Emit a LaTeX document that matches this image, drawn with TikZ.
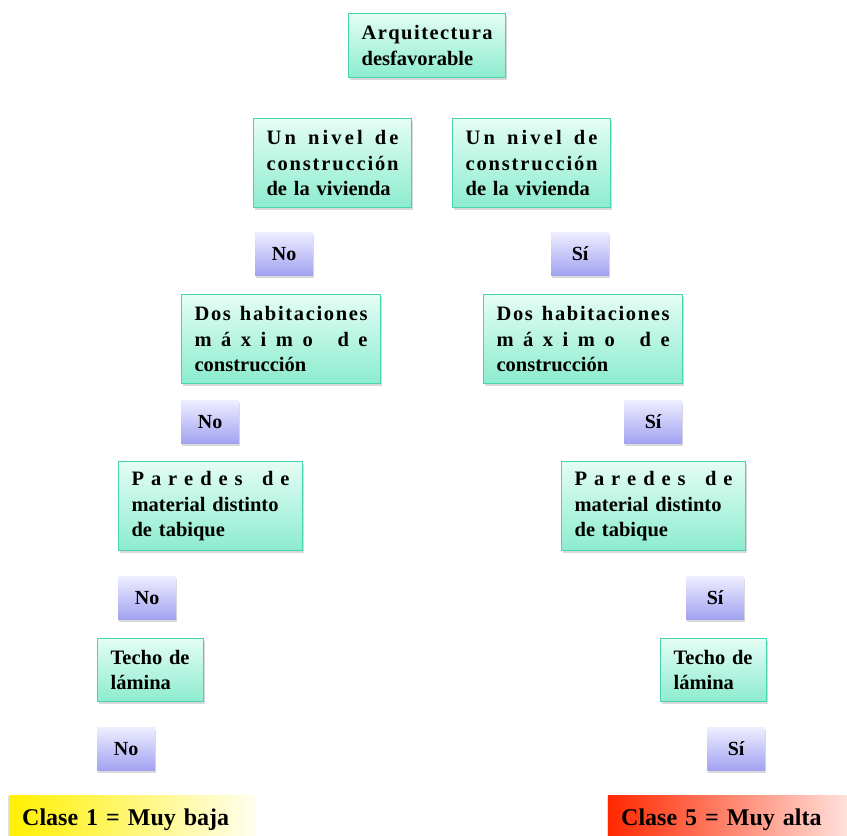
\documentclass[tikz,border=0pt]{standalone}
\usepackage{fontspec}
\setmainfont{Liberation Serif}
\usetikzlibrary{positioning, shadows}

\definecolor{mentaclaro}{RGB}{228, 253, 245}
\definecolor{mentaoscuro}{RGB}{140, 236, 206}
\definecolor{mentaborde}{RGB}{72, 212, 176}
\definecolor{lilaclaro}{RGB}{238, 238, 255}
\definecolor{lilaoscuro}{RGB}{162, 162, 242}
\definecolor{amarillo}{RGB}{255, 240, 0}
\definecolor{rojo}{RGB}{255, 40, 0}

% lineas justificadas como en el original
\makeatletter
\newcommand{\sep}{\hskip .28em plus 3fil\relax}
\newcommand{\letras}[1]{\makebox[\hsize][s]{\letras@ini#1\@nil}}
\def\letras@ini#1{#1\letras@sig}
\def\letras@sig#1{\ifx#1\@nil\else\hfill#1\expandafter\letras@sig\fi}
\makeatother
\newcommand{\justa}[1]{\makebox[\hsize][s]{#1}}

\begin{document}
\begin{tikzpicture}[x=1pt, y=-1pt,
    caja/.style={draw=mentaborde, line width=1.2pt, top color=mentaclaro,
                 bottom color=mentaoscuro, anchor=north west, align=left,
                 inner xsep=13pt, inner ysep=0pt,
                 drop shadow={shadow xshift=1pt, shadow yshift=-2.5pt, opacity=0.3},
                 font=\bfseries\fontsize{20.5}{25.5}\selectfont},
    resp/.style={top color=lilaclaro, bottom color=lilaoscuro, anchor=north west,
                 minimum width=58pt, minimum height=43pt, inner sep=0pt,
                 drop shadow={shadow xshift=1pt, shadow yshift=-2.5pt, opacity=0.3},
                 font=\bfseries\fontsize{20}{24}\selectfont},
    clase/.style={anchor=north west, inner xsep=13pt, inner ysep=13pt,
                  text height=17pt, text depth=6pt, align=left,
                  drop shadow={shadow xshift=-1pt, shadow yshift=-1pt, opacity=0.25},
                  font=\bfseries\fontsize{24}{28}\selectfont}
  ]
    \useasboundingbox (0,0) rectangle (847,836);

    \node[caja, text width=131pt, minimum height=64pt] (arquitectura) at (348,13)
      {\letras{Arquitectura}\\desfavorable};

    \node[caja, text width=132pt, minimum height=89pt] (nivelNo) at (253,118)
      {\letras{Un\sep nivel\sep de}\\\letras{construcción}\\de la vivienda};
    \node[caja, text width=132pt, minimum height=89pt] (nivelSi) at (452,118)
      {\letras{Un\sep nivel\sep de}\\\letras{construcción}\\de la vivienda};
    \node[resp] (no1) at (255,232) {No};
    \node[resp] (si1) at (551,232) {Sí};

    \node[caja, text width=173pt, minimum height=89pt] (habitacionesNo) at (181,294)
      {\letras{Dos\sep habitaciones}\\\letras{máximo\sep de}\\construcción};
    \node[caja, text width=173pt, minimum height=89pt] (habitacionesSi) at (483,294)
      {\letras{Dos\sep habitaciones}\\\letras{máximo\sep de}\\construcción};
    \node[resp] (no2) at (181,400) {No};
    \node[resp] (si2) at (624,400) {Sí};

    \node[caja, text width=158pt, minimum height=89pt] (paredesNo) at (118,461)
      {\letras{Paredes\sep de}\\\justa{material distinto}\\de tabique};
    \node[caja, text width=158pt, minimum height=89pt] (paredesSi) at (561,461)
      {\letras{Paredes\sep de}\\\justa{material distinto}\\de tabique};
    \node[resp] (no3) at (118,576) {No};
    \node[resp] (si3) at (686,576) {Sí};

    \node[caja, text width=80pt, minimum height=63pt] (techoNo) at (97,638)
      {Techo de\\lámina};
    \node[caja, text width=80pt, minimum height=63pt] (techoSi) at (660,638)
      {Techo de\\lámina};
    \node[resp] (no4) at (97,727) {No};
    \node[resp] (si4) at (707,727) {Sí};

    \node[clase, text width=221pt, left color=amarillo,
          right color=amarillo!6!white] (claseBaja) at (9,795)
      {Clase 1 = Muy baja};
    \node[clase, text width=219pt, left color=rojo,
          right color=rojo!12!white] (claseAlta) at (608,795)
      {Clase 5 = Muy alta};
  \end{tikzpicture}
\end{document}
